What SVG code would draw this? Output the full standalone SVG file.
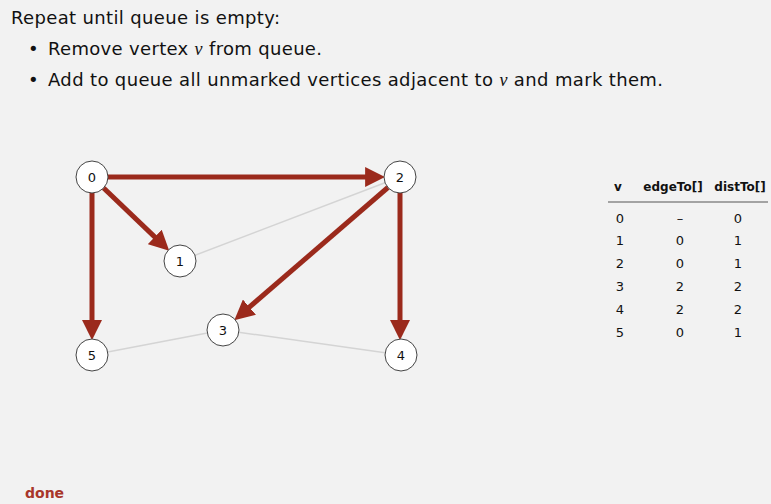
<svg xmlns="http://www.w3.org/2000/svg" width="771" height="504" viewBox="0 0 771 504">
<defs>
<style>
.t{font-family:"DejaVu Sans","Liberation Sans",sans-serif;fill:#111;}
.h{font-size:18px;}
.v{font-family:"Liberation Serif",serif;font-style:italic;}
.n circle{fill:#fff;stroke:#444;stroke-width:1;}
.n text{font-family:"DejaVu Sans",sans-serif;font-size:13px;fill:#111;text-anchor:middle;}
.g{stroke:#d4d4d4;stroke-width:1.5;fill:none;}
.r{stroke:#9b2a1c;stroke-width:5;fill:none;marker-end:url(#ah);}
.tb{font-family:"DejaVu Sans",sans-serif;font-size:13px;fill:#111;text-anchor:middle;}
.th{font-weight:bold;font-size:12px;}
</style>
<marker id="ah" markerUnits="userSpaceOnUse" markerWidth="20" markerHeight="20" refX="8" refY="9" orient="auto" viewBox="0 0 18 18">
<path d="M0,0 L18,9 L0,18 z" fill="#9b2a1c"/>
</marker>
</defs>
<rect width="771" height="504" fill="#f2f2f2"/>
<text class="t h" x="11" y="24" textLength="269" lengthAdjust="spacing">Repeat until queue is empty:</text>
<text class="t h" x="28" y="55">•</text>
<text class="t h" x="48" y="55" textLength="274" lengthAdjust="spacing">Remove vertex <tspan class="v">v</tspan> from queue.</text>
<text class="t h" x="28" y="86">•</text>
<text class="t h" x="48" y="86" textLength="615" lengthAdjust="spacing">Add to queue all unmarked vertices adjacent to <tspan class="v">v</tspan> and mark them.</text>
<g id="connectors">
<line class="g" x1="400" y1="177" x2="180" y2="261"/>
<line class="g" x1="223" y1="330" x2="92" y2="355"/>
<line class="g" x1="223" y1="330" x2="401" y2="355"/>
<line class="r" x1="108" y1="177" x2="374" y2="177"/>
<line class="r" x1="92" y1="193" x2="92" y2="329"/>
<line class="r" x1="400" y1="193" x2="400" y2="329"/>
<line class="r" x1="103.6" y1="188" x2="161.2" y2="243.1"/>
<line class="r" x1="387.9" y1="187.5" x2="242.7" y2="312.9"/>
</g>
<g id="node0" class="n"><circle cx="92" cy="177" r="16"/><text x="92" y="182">0</text></g>
<g id="node1" class="n"><circle cx="180" cy="261" r="16"/><text x="180" y="266">1</text></g>
<g id="node2" class="n"><circle cx="400" cy="177" r="16"/><text x="400" y="182">2</text></g>
<g id="node3" class="n"><circle cx="223" cy="330" r="16"/><text x="223" y="335">3</text></g>
<g id="node4" class="n"><circle cx="401" cy="355" r="16"/><text x="401" y="360">4</text></g>
<g id="node5" class="n"><circle cx="92" cy="355" r="16"/><text x="92" y="360">5</text></g>
<g id="table">
<text class="tb th" x="618" y="191">v</text>
<text class="tb th" x="673" y="191">edgeTo[]</text>
<text class="tb th" x="740" y="191">distTo[]</text>
<line x1="608" y1="202" x2="768" y2="202" stroke="#888" stroke-width="1.5"/>
<text class="tb" x="620" y="223">0</text><text class="tb" x="680" y="223">–</text><text class="tb" x="738" y="223">0</text>
<text class="tb" x="620" y="245">1</text><text class="tb" x="680" y="245">0</text><text class="tb" x="738" y="245">1</text>
<text class="tb" x="620" y="268">2</text><text class="tb" x="680" y="268">0</text><text class="tb" x="738" y="268">1</text>
<text class="tb" x="620" y="291">3</text><text class="tb" x="680" y="291">2</text><text class="tb" x="738" y="291">2</text>
<text class="tb" x="620" y="314">4</text><text class="tb" x="680" y="314">2</text><text class="tb" x="738" y="314">2</text>
<text class="tb" x="620" y="337">5</text><text class="tb" x="680" y="337">0</text><text class="tb" x="738" y="337">1</text>
</g>
<text x="25" y="498" font-family="DejaVu Sans,sans-serif" font-weight="bold" font-size="14" fill="#a8362a">done</text>
</svg>
